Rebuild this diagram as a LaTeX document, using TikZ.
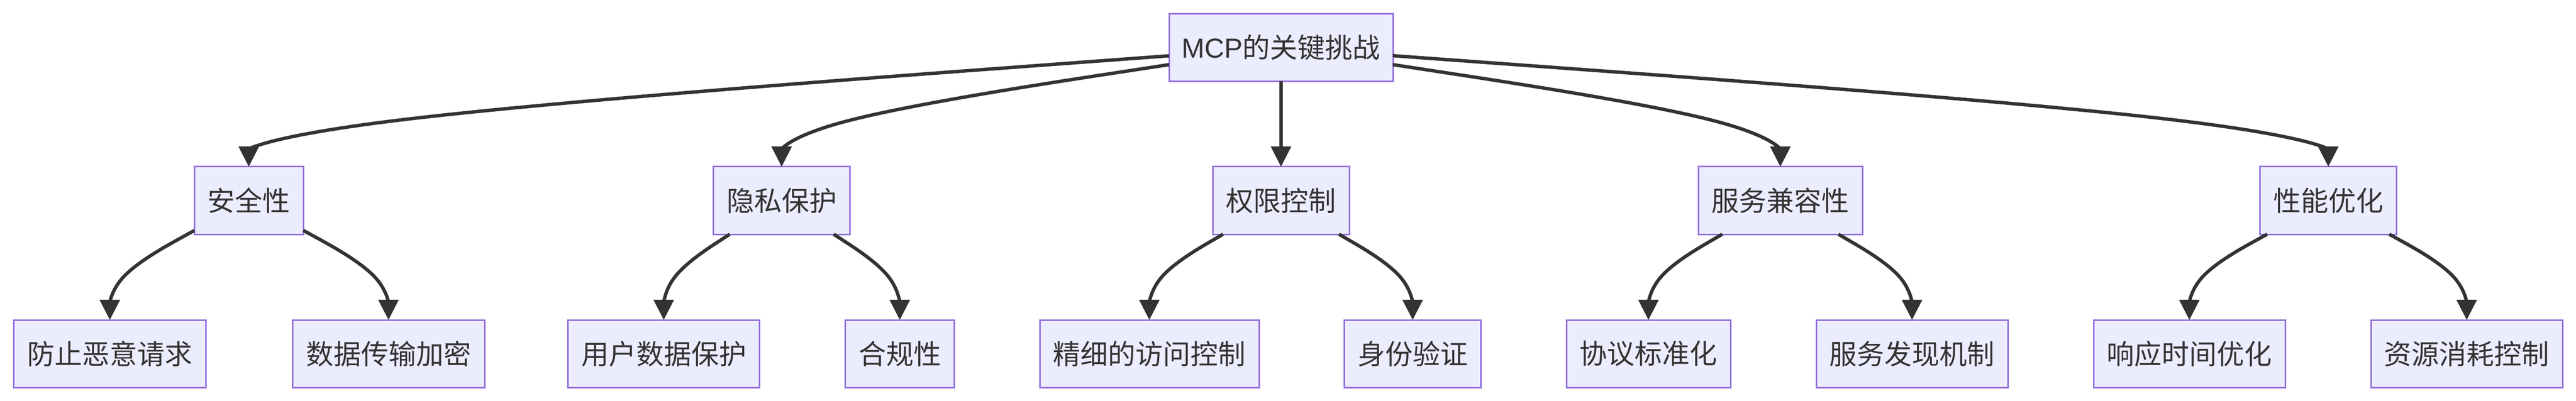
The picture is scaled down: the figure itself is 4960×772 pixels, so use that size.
\documentclass[tikz,border=0pt]{standalone}
\usepackage{fontspec}
\usetikzlibrary{arrows.meta,calc}
\newfontfamily\cjkfont{Noto Sans CJK SC}
\newfontfamily\latfont{Liberation Sans}
\definecolor{boxfill}{HTML}{ECECFF}
\definecolor{boxline}{HTML}{9370DB}
\definecolor{ink}{HTML}{333333}
\tikzset{
  box/.style={rectangle, draw=boxline, fill=boxfill, line width=0.6pt,
    minimum height=26pt, inner sep=0pt, outer sep=0pt, text=ink,
    font=\cjkfont\fontsize{10.6pt}{12pt}\selectfont},
  bw/.style={minimum width={#1*0.2pt}},
  edgeline/.style={draw=ink, line width=1.3pt,
    -{Triangle[length=7.8pt,width=7.6pt]}},
}
\newcommand\mmedge[3]{%
  \path (#2.center |- 0,#3) coordinate (eB) (#2.north) coordinate (eC);
  \path (#1) -- (eB) coordinate[pos=0] (eA);
  \draw[edgeline] (#1) -- ($(eA)!0.166667!(eB)$)
    .. controls ($(eA)!0.333333!(eB)$) and ($(eA)!0.666667!(eB)$)
    .. ($0.166667*(eA)+0.666667*(eB)+0.166667*(eC)$)
    .. controls ($(eB)!0.333333!(eC)$) and ($(eB)!0.666667!(eC)$)
    .. (#2.north);
}
\begin{document}
\begin{tikzpicture}[x=0.2pt,y=-0.2pt]
\useasboundingbox[fill=white] (0,0) rectangle (4960,772);
% top
\node[box,bw=431] (mcp) at (2466.5,91.5) {{\latfont MCP}的关键挑战};
% level 2
\node[box,bw=210] (s1) at (479,386) {安全性};
\node[box,bw=263] (s2) at (1505,386) {隐私保护};
\node[box,bw=263] (s3) at (2466.5,386) {权限控制};
\node[box,bw=316] (s4) at (3428,386) {服务兼容性};
\node[box,bw=263] (s5) at (4483,386) {性能优化};
% level 3
\node[box,bw=370] (t1) at (211.5,681) {防止恶意请求};
\node[box,bw=370] (t2) at (748,681) {数据传输加密};
\node[box,bw=369] (t3) at (1278,681) {用户数据保护};
\node[box,bw=210] (t4) at (1732.5,681) {合规性};
\node[box,bw=422] (t5) at (2213,681) {精细的访问控制};
\node[box,bw=263] (t6) at (2720,681) {身份验证};
\node[box,bw=316] (t7) at (3174,681) {协议标准化};
\node[box,bw=369] (t8) at (3681.5,681) {服务发现机制};
\node[box,bw=369] (t9) at (4215.5,681) {响应时间优化};
\node[box,bw=369] (t10) at (4749.5,681) {资源消耗控制};
% edges
\mmedge{mcp}{s1}{238.75}
\mmedge{mcp}{s2}{238.75}
\mmedge{mcp}{s3}{238.75}
\mmedge{mcp}{s4}{238.75}
\mmedge{mcp}{s5}{238.75}
\mmedge{s1}{t1}{533.5}
\mmedge{s1}{t2}{533.5}
\mmedge{s2}{t3}{533.5}
\mmedge{s2}{t4}{533.5}
\mmedge{s3}{t5}{533.5}
\mmedge{s3}{t6}{533.5}
\mmedge{s4}{t7}{533.5}
\mmedge{s4}{t8}{533.5}
\mmedge{s5}{t9}{533.5}
\mmedge{s5}{t10}{533.5}
\end{tikzpicture}
\end{document}
